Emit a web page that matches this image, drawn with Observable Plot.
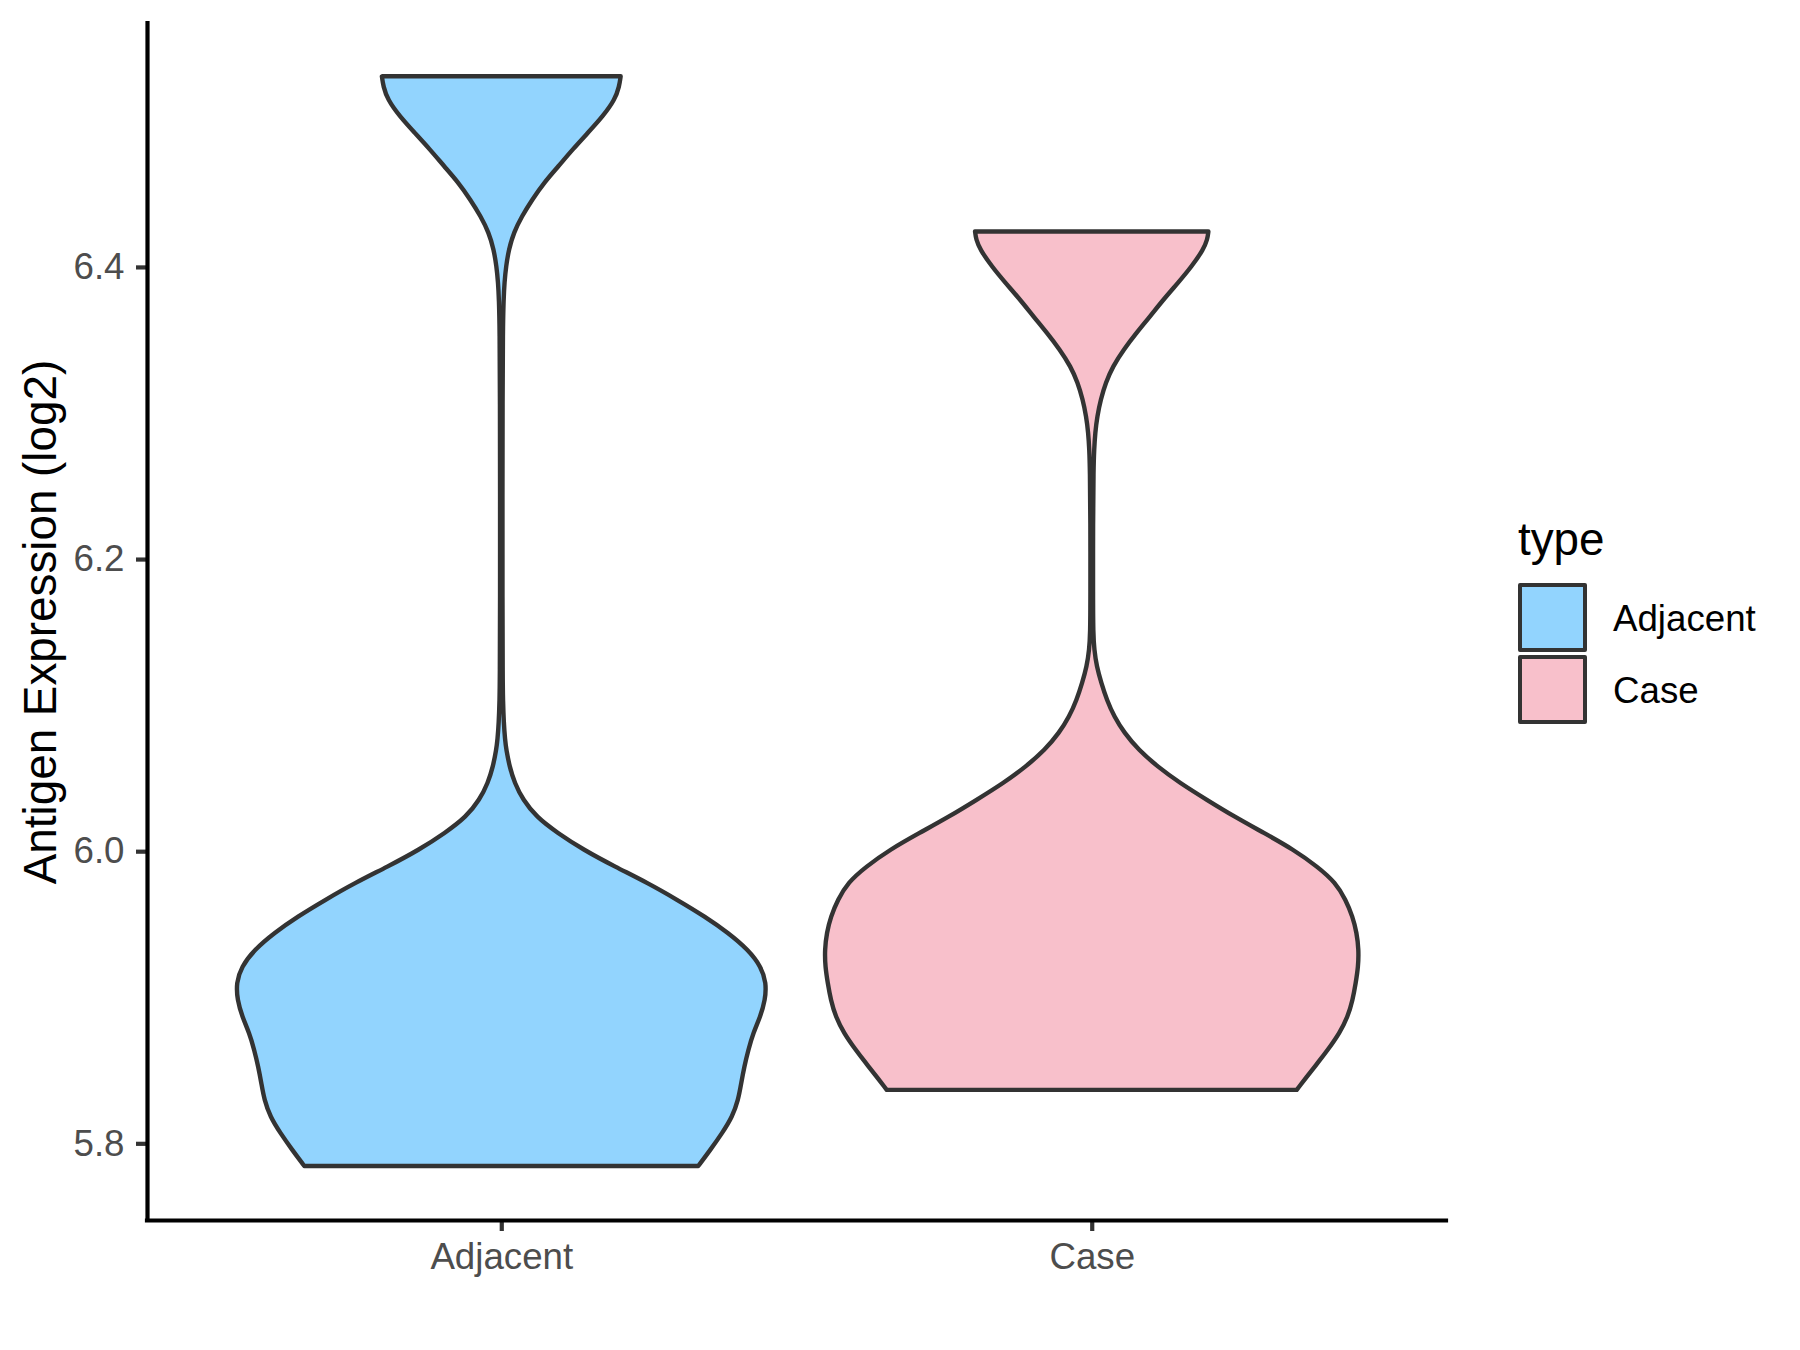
<!DOCTYPE html>
<html>
<head>
<meta charset="utf-8">
<script src="https://cdn.jsdelivr.net/npm/d3@7"></script>
<script src="https://cdn.jsdelivr.net/npm/@observablehq/plot@0.6"></script>
<style>
  html, body { margin: 0; padding: 0; background: #ffffff; }
  #wrap { position: relative; width: 1800px; height: 1350px; }
  #legend { position: absolute; left: 0; top: 0; pointer-events: none; }
</style>
</head>
<body>
<div id="wrap"></div>
<script>
// ---- data ----
const categories = ["Adjacent", "Case"];
const fills = ["#92D4FE", "#F8C0CB"];
const yTicks = [5.8, 6.0, 6.2, 6.4];
const legendTitle = "type";
const yTitle = "Antigen Expression (log2)";

// violin outline: expression level and half-width (in category-axis units)
const adjacentY = [6.5305, 6.5236, 6.5147, 6.5031, 6.4921, 6.4805, 6.4688, 6.4579, 6.4462, 6.4346,
  6.4236, 6.4120, 6.4003, 6.3894, 6.3777, 6.3572, 6.3092, 6.2407, 6.1722, 6.1174,
  6.1037, 6.0880, 6.0763, 6.0694, 6.0578, 6.0468, 6.0352, 6.0235, 6.0126, 6.0010,
  5.9893, 5.9784, 5.9667, 5.9551, 5.9441, 5.9325, 5.9208, 5.9098, 5.8982, 5.8865,
  5.8756, 5.8639, 5.8523, 5.8413, 5.8297, 5.8181, 5.8071, 5.7954, 5.7845];
const adjacentHalfWidth = [0.2022, 0.1998, 0.1927, 0.1721, 0.1473, 0.1209, 0.0965, 0.0728, 0.0525, 0.0347,
  0.0212, 0.0127, 0.0081, 0.0054, 0.0039, 0.0027, 0.0022, 0.0020, 0.0020, 0.0024,
  0.0029, 0.0042, 0.0064, 0.0085, 0.0141, 0.0225, 0.0367, 0.0593, 0.0948, 0.1389,
  0.1931, 0.2472, 0.2981, 0.3455, 0.3844, 0.4183, 0.4403, 0.4488, 0.4471, 0.4386,
  0.4268, 0.4183, 0.4115, 0.4064, 0.4014, 0.3912, 0.3743, 0.3539, 0.3336];

const caseY = [6.4243, 6.4188, 6.4120, 6.4003, 6.3894, 6.3777, 6.3661, 6.3551, 6.3435, 6.3318,
  6.3208, 6.3092, 6.2976, 6.2866, 6.2750, 6.2613, 6.2270, 6.1722, 6.1496, 6.1380,
  6.1263, 6.1154, 6.1037, 6.0921, 6.0811, 6.0694, 6.0578, 6.0468, 6.0352, 6.0235,
  6.0126, 6.0010, 5.9893, 5.9784, 5.9667, 5.9551, 5.9441, 5.9325, 5.9208, 5.9098,
  5.8982, 5.8865, 5.8756, 5.8639, 5.8550, 5.8482, 5.8366];
const caseHalfWidth = [0.1976, 0.1959, 0.1892, 0.1693, 0.1468, 0.1214, 0.0987, 0.0762, 0.0542, 0.0356,
  0.0237, 0.0152, 0.0093, 0.0059, 0.0041, 0.0030, 0.0022, 0.0022, 0.0025, 0.0042,
  0.0085, 0.0161, 0.0254, 0.0381, 0.0550, 0.0791, 0.1118, 0.1490, 0.1948, 0.2422,
  0.2913, 0.3421, 0.3827, 0.4132, 0.4301, 0.4420, 0.4488, 0.4522, 0.4513, 0.4471,
  0.4420, 0.4335, 0.4200, 0.3997, 0.3827, 0.3692, 0.3472];

// ---- build table ----
const profiles = [[adjacentY, adjacentHalfWidth], [caseY, caseHalfWidth]];
const rows = categories.flatMap((type, i) =>
  profiles[i][0].map((y, j) => ({type, pos: i + 1, y, hw: profiles[i][1][j]}))
);

const xDomain = [0.4, 2.6];
const yDomain = [5.7475, 6.567];
const font = "'Liberation Sans', Arial, Helvetica, sans-serif";

const chart = Plot.plot({
  width: 1800,
  height: 1350,
  marginLeft: 147,
  marginRight: 354,
  marginTop: 23,
  marginBottom: 130,
  x: {type: "linear", domain: xDomain, axis: null},
  y: {type: "linear", domain: yDomain, axis: null},
  color: {domain: categories, range: fills},
  style: {fontFamily: font, background: "#ffffff", overflow: "visible"},
  marks: [
    Plot.areaX(rows, {
      y: "y",
      x1: d => d.pos - d.hw,
      x2: d => d.pos + d.hw,
      z: "type",
      fill: "type",
      stroke: "#333333",
      strokeWidth: 4.4,
      strokeLinejoin: "round",
      curve: "basis"
    }),
    Plot.axisY({
      ticks: yTicks,
      tickFormat: d3.format(".1f"),
      tickSize: 11,
      tickPadding: 12,
      fontSize: 36.7,
      stroke: "#333333",
      strokeWidth: 4.2,
      fill: "#4D4D4D",
      label: null
    }),
    Plot.axisX({
      ticks: [1, 2],
      tickFormat: d => categories[d - 1],
      tickSize: 11,
      tickPadding: 11,
      fontSize: 36.7,
      stroke: "#333333",
      strokeWidth: 4.2,
      fill: "#4D4D4D",
      label: null
    }),
    Plot.ruleX([xDomain[0]], {y1: yDomain[0], y2: yDomain[1], stroke: "#000000", strokeWidth: 4.2, strokeLinecap: "square"}),
    Plot.ruleY([yDomain[0]], {x1: xDomain[0], x2: xDomain[1], stroke: "#000000", strokeWidth: 4.2, strokeLinecap: "square"}),
    Plot.text([yTitle], {
      frameAnchor: "left",
      textAnchor: "middle",
      rotate: -90,
      dx: -106,
      fontSize: 45.8,
      fill: "#000000"
    })
  ]
});

const wrap = document.getElementById("wrap");
wrap.appendChild(chart);

// ---- legend (right side) ----
const ns = "http://www.w3.org/2000/svg";
const lg = document.createElementNS(ns, "svg");
lg.setAttribute("id", "legend");
lg.setAttribute("width", 1800);
lg.setAttribute("height", 1350);
lg.setAttribute("font-family", font);
const title = document.createElementNS(ns, "text");
title.setAttribute("x", 1518);
title.setAttribute("y", 555);
title.setAttribute("font-size", 45.8);
title.setAttribute("fill", "#000");
title.textContent = legendTitle;
lg.appendChild(title);
categories.forEach((c, i) => {
  const top = 585 + i * 72;
  const r = document.createElementNS(ns, "rect");
  r.setAttribute("x", 1520);
  r.setAttribute("y", top);
  r.setAttribute("width", 65);
  r.setAttribute("height", 65);
  r.setAttribute("fill", fills[i]);
  r.setAttribute("stroke", "#333333");
  r.setAttribute("stroke-width", 4);
  r.setAttribute("stroke-linejoin", "round");
  lg.appendChild(r);
  const t = document.createElementNS(ns, "text");
  t.setAttribute("x", 1613);
  t.setAttribute("y", top + 46);
  t.setAttribute("font-size", 36.7);
  t.setAttribute("fill", "#000");
  t.textContent = c;
  lg.appendChild(t);
});
wrap.appendChild(lg);
</script>
</body>
</html>
